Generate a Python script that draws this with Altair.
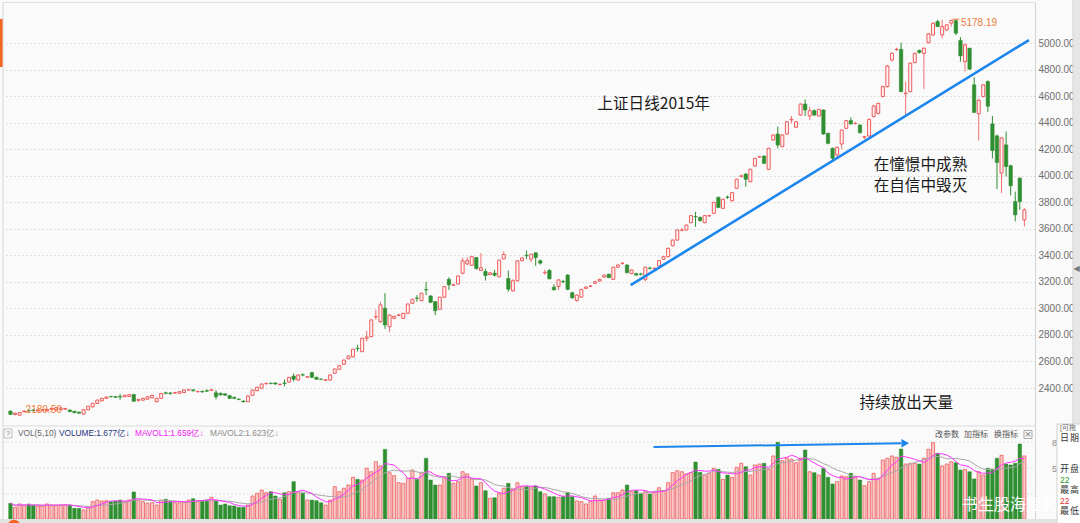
import altair as alt
import pandas as pd

# ---------------- data ----------------
opens = [
    # i0-48
    2226,2200,2195,2220,2230,2234,2226,2232,2228,2236, 2234,2236,2240,2234,2225,2218,2204,2236,2258,2284,
    2304,2322,2336,2334,2336,2334,2336,2350,2308,2308, 2316,2326,2297,2322,2364,2362,2362,2360,2366,2386,
    2386,2372,2375,2380,2383,2364,2360,2356,2342,
    # i49-98
    2330,2316,2302,2297,2345,2380,2398,2432,2436,2438, 2426,2438,2445,2490,2460,2500,2482,2516,2480,2467,
    2458,2460,2511,2541,2579,2621,2635,2699,2674,2775, 2787,2936,2900,3001,2862,2925,2948,2925,2963,3038,
    3078,3058,3142,3094,3051,2993,3084,3219,3175,3184,
    # i99-120
    3265,3335,3325,3383,3286,3278,3255,3265,3238,3373, 3225,3132,3208,3359,3400,3371,3419,3359,3268,3286,
    3160,3165,
    # i121-188
    3203,3251,3118,3060,3085,3151,3166,3189,3206,3236, 3257,3219,3310,3338,3327,3262,3262,3259,3219,3304,
    3300,3320,3370,3390,3472,3515,3589,3591,3646,3692, 3686,3646,3697,3716,3837,3754,3839,3811,3905,3996,
    4013,3955,4073,4141,4148,4048,4269,4314,4219,4314, 4420,4365,4457,4540,4450,4490,4450,4495,4319,4206,
    4156,4239,4357,4415,4393,4382,4290,4299,
    # i189-222
    4445,4470,4597,4671,4872,4950,4952,4618,4633,4852, 4944,4922,5002,5061,5162,5061,5099,5150,5168,5019,
    4860,4961,4685,4467,4597,4710,4390,4300,4020,4232, 4075,3805,3982,3667,
]
highs = [
    2230,2215,2220,2232,2236,2240,2240,2240,2242,2250, 2255,2254,2250,2238,2228,2222,2240,2266,2288,2312,
    2326,2336,2342,2340,2355,2350,2354,2356,2320,2326, 2338,2348,2326,2362,2372,2370,2372,2376,2390,2394,
    2392,2380,2382,2390,2394,2385,2366,2360,2348,
    2335,2322,2306,2344,2388,2410,2434,2440,2442,2442, 2434,2465,2484,2510,2502,2510,2492,2522,2486,2472,
    2466,2502,2546,2572,2614,2644,2695,2725,2778,2830, 2916,2990,3050,3115,2955,2945,2958,2966,3036,3072,
    3100,3118,3200,3098,3056,3088,3168,3235,3186,3248,
    3380,3385,3395,3388,3416,3298,3272,3290,3366,3430, 3285,3220,3362,3384,3436,3412,3422,3368,3290,3296,
    3182,3218,
    3215,3258,3125,3104,3147,3165,3174,3205,3223,3255, 3262,3314,3331,3350,3332,3294,3268,3268,3314,3314,
    3310,3364,3394,3457,3519,3595,3605,3632,3703,3728, 3692,3703,3706,3803,3842,3826,3850,3876,3977,4008,
    4018,4052,4135,4150,4152,4210,4311,4370,4311,4411, 4450,4411,4544,4575,4520,4500,4504,4500,4324,4212,
    4218,4348,4420,4440,4405,4386,4300,4430,
    4535,4550,4680,4835,4930,4965,5002,4710,4852,4928, 4950,4965,5075,5155,5175,5175,5142,5175,5178.19,5044,
    4998,4961,4743,4580,4690,4718,4450,4310,4290,4333, 4083,3880,3985,3755,
]
lows = [
    2198,2195,2189.5,2215,2220,2225,2222,2228,2225,2232, 2230,2232,2236,2218,2210,2206,2200,2232,2254,2280,
    2300,2318,2328,2325,2310,2330,2332,2296,2296,2304, 2312,2322,2292,2318,2352,2350,2356,2356,2362,2380,
    2372,2366,2364,2370,2378,2314,2344,2340,2316,
    2315,2308,2292,2294,2342,2376,2395,2426,2428,2425, 2420,2412,2440,2450,2456,2488,2478,2476,2462,2460,
    2454,2456,2506,2536,2575,2616,2630,2675,2670,2750, 2782,2915,2890,2845,2820,2918,2940,2920,2958,3034,
    3050,3054,3100,3040,2950,2988,3080,3140,3168,3180,
    3258,3327,3320,3292,3284,3210,3250,3240,3234,3370, 3126,3126,3204,3355,3371,3350,3320,3330,3253,3220,
    3135,3140,
    3190,3138,3072,3050,3080,3147,3160,3185,3202,3232, 3228,3215,3306,3330,3264,3258,3246,3248,3201,3292,
    3294,3316,3366,3386,3468,3511,3580,3587,3642,3615, 3655,3642,3690,3712,3756,3750,3825,3806,3900,3985,
    3917,3950,4068,4134,4088,4044,4264,4206,4214,4310, 4395,4360,4452,4450,4420,4450,4445,4308,4236,4118,
    4140,4200,4352,4385,4385,4318,4275,4295,
    4440,4460,4590,4665,4860,4940,4630,4457,4630,4850, 4920,4654,4998,5055,5120,5035,5090,5124,5060,4860,
    4785,4798,4472,4265,4590,4480,4130,3900,3870,3995, 3850,3655,3742,3617,
]
closes = [
    2201,2210,2215,2226,2227,2230,2236,2234,2238,2246, 2252,2250,2246,2222,2214,2210,2236,2262,2284,2309,
    2322,2332,2334,2330,2332,2345,2350,2300,2312,2322, 2334,2345,2322,2359,2360,2358,2366,2372,2385,2388,
    2380,2374,2371,2376,2386,2334,2348,2346,2322,
    2322,2314,2296,2340,2385,2405,2430,2435,2434,2430, 2428,2435,2480,2466,2498,2498,2485,2480,2466,2466,
    2462,2498,2543,2568,2611,2641,2692,2697,2775,2785, 2913,2938,3026,2875,2950,2940,2950,2963,3033,3069,
    3076,3114,3139,3046,2983,3084,3164,3177,3177,3244,
    3358,3360,3390,3300,3306,3248,3268,3250,3364,3406, 3145,3208,3359,3380,3396,3408,3383,3341,3272,3223,
    3140,3215,
    3200,3143,3080,3100,3143,3161,3168,3201,3219,3251, 3232,3310,3327,3340,3269,3290,3251,3257,3310,3302,
    3302,3360,3390,3453,3515,3591,3591,3628,3699,3690, 3661,3699,3699,3799,3761,3822,3837,3872,3973,3998,
    3973,4048,4131,4143,4093,4206,4307,4231,4307,4407, 4425,4407,4540,4495,4490,4457,4500,4314,4244,4131,
    4214,4344,4415,4390,4395,4324,4294,4425,
    4525,4545,4671,4827,4922,4952,4633,4622,4848,4922, 4929,4961,5069,5149,5124,5124,5137,5170,5074,4903,
    4986,4803,4477,4568,4685,4524,4190,4100,4285,4069, 3924,3705,3805,3742,
]
volumes = [  # 亿股
    1.63,1.22,1.56,1.38,1.56,1.45,1.35,1.35,1.56,1.45, 1.45,1.45,1.45,1.45,1.11,1.11,0.94,1.22,1.80,1.97,
    1.87,1.90,1.80,1.87,1.97,1.80,1.97,2.81,1.97,1.80, 1.63,1.69,1.45,1.97,2.05,1.80,1.69,1.69,1.74,1.97,
    2.11,1.90,1.90,1.97,2.25,1.87,1.45,1.56,1.38,1.35, 1.22,1.22,1.45,2.39,2.67,3.01,2.73,2.84,2.39,2.05,
    2.73,2.84,3.88,2.84,2.67,1.97,1.97,1.90,1.69,1.45, 1.97,3.36,2.84,3.19,3.53,4.33,4.12,
    4.05,5.27,4.91,5.95,5.51,7.24,4.81,4.50,3.77,3.71, 4.23,5.09,4.12,4.85,6.31,4.05,3.53,3.53,4.33,4.75,
    3.71,3.88,4.91,4.68,4.12,3.43,3.77,2.94,2.15,2.21, 2.67,3.19,3.71,3.09,3.77,3.36,3.36,3.36,3.43,2.84,
    2.60,2.32,2.32,2.25,2.32,2.77,2.32,1.87,1.80,1.56, 1.87,2.39,1.97,
    1.97,2.15,2.73,2.73,3.01,3.53,2.84,2.94,2.67,2.84, 2.60,2.84,3.25,2.94,3.77,4.81,5.02,4.91,4.68,4.81,
    5.92,4.85,4.57,4.75,5.27,5.16,4.12,4.57,4.33,5.37, 5.79,5.43,4.57,5.61,5.71,5.79,5.16,6.55,7.97,6.06,
    6.31,6.20,5.85,6.31,7.17,4.91,4.81,4.57,5.27,4.33, 3.64,3.88,4.47,4.39,4.75,4.39,4.05,3.46,3.88,4.75,
    4.23,6.13,6.31,6.55,6.41,7.27,5.71,5.79,5.79,5.71, 6.31,7.24,7.93,6.83,5.51,5.71,5.95,5.85,5.09,5.16,
    4.91,4.16,4.91,4.57,5.27,5.19,6.31,6.62,5.71,5.61, 5.79,7.79,6.55,
]
price_ticks = [2400, 2600, 2800, 3000, 3200, 3400, 3600, 3800, 4000, 4200, 4400, 4600, 4800, 5000]
vol_grid_levels = [2.6, 5.3, 8.0]
trend_i = [135.8, 223.0]
trend_p = [3176, 5022]
arrow_i = [140.8, 195.0]
arrow_v = [7.48, 7.86]
notes_i = [128.5, 189.0, 189.0, 185.9]
notes_p = [4540, 4080, 3922, 2287]
notes_t = ["上证日线2015年", "在憧憬中成熟", "在自信中毁灭", "持续放出天量"]

df = pd.DataFrame({"i": list(range(len(closes))), "o": opens, "h": highs,
                   "l": lows, "c": closes, "v": volumes})

# ---------------- styling ----------------
W, H = 1032, 517
X_DOM = [-0.542, 223.23]
P_DOM = [1412.8, 5309.0]
V_DOM = [0, 53.71]
RED, RED_FILL, RED_WICK = "#ee5b5b", "#fff3f3", "#f07070"
VRED_FILL = "#f8c8c8"
GREEN = "#2f8f31"
BLUE = "#1a86ee"
ORANGE = "#f07a3a"
NUM_FONT = "Liberation Sans"
CJK_FONT = "Noto Sans CJK SC"
MIX_FONT = "Liberation Sans, Noto Sans CJK SC"

xs = alt.Scale(domain=X_DOM, nice=False, zero=False)
ps = alt.Scale(domain=P_DOM, nice=False, zero=False)
vs = alt.Scale(domain=V_DOM, nice=False, zero=False)
p_axis = alt.Axis(orient="right", values=price_ticks, format=".2f", title=None,
                  labelColor="#6e6e6e", labelFontSize=10, labelFont=NUM_FONT,
                  ticks=False, tickSize=0, labelPadding=3, domainColor="#d4d4d4",
                  grid=True, gridColor="#d6d6d6", gridDash=[1.5, 2.5], gridWidth=1)


def X(f="i"):
    return alt.X(f"{f}:Q", scale=xs, axis=None)


def PY(f):
    return alt.Y(f"{f}:Q", scale=ps, axis=p_axis)


def VY(f):
    return alt.Y(f"{f}:Q", scale=vs, axis=None)


base = alt.Chart(df)
up = base.transform_filter("datum.c >= datum.o")
dn = base.transform_filter("datum.c < datum.o")

wick_up = up.mark_rule(color=RED_WICK, strokeWidth=1).encode(x=X(), y=PY("l"), y2="h:Q")
wick_dn = dn.mark_rule(color=GREEN, strokeWidth=1).encode(x=X(), y=PY("l"), y2="h:Q")
body_up = up.mark_bar(size=3, fill=RED_FILL, stroke=RED, strokeWidth=1).encode(
    x=X(), y=PY("o"), y2="c:Q")
body_dn = dn.mark_bar(size=3.4, fill=GREEN, stroke=GREEN, strokeWidth=0.6).encode(
    x=X(), y=PY("o"), y2="c:Q")

trend = alt.Chart(pd.DataFrame({"i": trend_i, "p": trend_p})).mark_line(
    color=BLUE, strokeWidth=2.6).encode(x=X(), y=PY("p"))

notes_df = pd.DataFrame({"i": notes_i, "p": notes_p, "t": notes_t})
notes = alt.Chart(notes_df).mark_text(align="left", baseline="middle", fontSize=15.6,
                                      font=CJK_FONT, color="#1b1b1b").encode(
    x=X(), y=PY("p"), text="t:N")

lo_i = int(df["l"].idxmin())
hi_i = int(df["h"].idxmax())
ext_df = pd.DataFrame({"i": [lo_i], "p": [lows[lo_i]], "t": [f"{lows[lo_i]:.2f}"]})
ext_df2 = pd.DataFrame({"i": [hi_i], "p": [highs[hi_i]], "t": [f"{highs[hi_i]:.2f}"]})
lo_lab = alt.Chart(ext_df).mark_text(align="left", baseline="middle", fontSize=10,
                                     font=NUM_FONT, color=ORANGE, dx=6, dy=-6).encode(
    x=X(), y=PY("p"), text="t:N")
hi_lab = alt.Chart(ext_df2).mark_text(align="left", baseline="middle", fontSize=10,
                                      font=NUM_FONT, color=ORANGE, dx=5, dy=4).encode(
    x=X(), y=PY("p"), text="t:N")
hi_tick = alt.Chart(ext_df2).mark_tick(orient="horizontal", size=7, thickness=1.5,
                                       color=ORANGE).encode(x=X(), y=PY("p"))

price = alt.layer(wick_up, wick_dn, body_up, body_dn, trend, notes, lo_lab, hi_lab, hi_tick)

# ---------------- volume panel ----------------
vgrid = alt.Chart(pd.DataFrame({"g": vol_grid_levels})).mark_rule(
    color="#d6d6d6", strokeDash=[1.5, 2.5]).encode(y=VY("g"), x=alt.value(0), x2=alt.value(W))
vol_up = up.mark_bar(size=3.1, fill=VRED_FILL, stroke=RED, strokeWidth=0.8).encode(x=X(), y=VY("v"))
vol_dn = dn.mark_bar(size=3.5, fill=GREEN, stroke=GREEN, strokeWidth=0.5).encode(x=X(), y=VY("v"))
ma5 = base.transform_window(ma="mean(v)", frame=[-4, 0], sort=[alt.SortField("i")]).mark_line(
    color="#ff33ff", strokeWidth=1).encode(x=X(), y=VY("ma"))
ma10 = base.transform_window(ma="mean(v)", frame=[-9, 0], sort=[alt.SortField("i")]).mark_line(
    color="#a9a9a9", strokeWidth=1).encode(x=X(), y=VY("ma"))
arrow = alt.Chart(pd.DataFrame({"i": arrow_i, "v": arrow_v})).mark_line(
    color=BLUE, strokeWidth=2).encode(x=X(), y=VY("v"))
arrow_head = alt.Chart(pd.DataFrame({"i": [arrow_i[-1] + 0.9], "v": [arrow_v[-1] + 0.01]})).mark_point(
    shape="triangle-right", filled=True, size=75, color=BLUE, opacity=1).encode(x=X(), y=VY("v"))

volume = alt.layer(vgrid, vol_up, vol_dn, ma10, ma5, arrow, arrow_head)

# ---------------- decorations (pixel placed) ----------------
dummy = pd.DataFrame({"d": [0]})


def ptext(t, x, y, size, color, font=MIX_FONT, align="left", weight="normal"):
    return alt.Chart(dummy).mark_text(text=t, align=align, baseline="middle", fontSize=size,
                                      color=color, font=font, fontWeight=weight).encode(
        x=alt.value(x), y=alt.value(y))


def prect(x1, y1, x2, y2, fill, stroke=None, sw=1):
    kw = dict(fill=fill)
    if stroke:
        kw.update(stroke=stroke, strokeWidth=sw)
    return alt.Chart(dummy).mark_rect(**kw).encode(
        x=alt.value(x1), x2=alt.value(x2), y=alt.value(y1), y2=alt.value(y2))


def prule(x1, y1, x2, y2, color, sw=1):
    return alt.Chart(dummy).mark_rule(color=color, strokeWidth=sw).encode(
        x=alt.value(x1), x2=alt.value(x2), y=alt.value(y1), y2=alt.value(y2))


deco = [
    prule(0, 0.5, W, 0.5, "#e0e0e0"),
    prule(0, 0, 0, H, "#d4d4d4"),
    prect(-3, 17, -0.4, 65, "#f26522"),
    prule(0, 424, W, 424, "#dcdcdc"),
    prect(-3, 517, 1054, 523, "#e3e3e3"),
    alt.Chart(dummy).mark_point(filled=True, size=160, color="#f26522", opacity=1).encode(
        x=alt.value(11), y=alt.value(524)),
    # volume header
    prect(1, 427, 9, 436, "#fafafa", "#bdbdbd"),
    ptext("?", 5, 431.5, 8, "#8a8a8a", NUM_FONT, "center"),
    ptext("VOL(5,10)", 15, 432, 8.3, "#666666"),
    ptext("VOLUME:1.677亿↓", 56, 432, 8.3, "#27337f"),
    ptext("MAVOL1:1.659亿↓", 132, 432, 8.3, "#f020f0"),
    ptext("MAVOL2:1.623亿↓", 207, 432, 8.3, "#8c8c8c"),
    ptext("改参数", 932, 433, 8, "#555555", CJK_FONT),
    ptext("加指标", 961, 433, 8, "#555555", CJK_FONT),
    ptext("换指标", 991, 433, 8, "#555555", CJK_FONT),
    prect(1021, 428.5, 1029, 436.5, "#fafafa", "#a9a9a9"),
    ptext("×", 1025, 432.3, 9, "#777777", "DejaVu Sans", "center"),
    # watermark
    ptext("书生股海复利", 959, 502.5, 16, "#ffffff", CJK_FONT),
    # right side widgets
    prect(1070, -2, 1077, 426, "#e6e6e6"),
    prule(1070, -2, 1070, 426, "#d2d2d2"),
    ptext("◀", 1073.5, 267, 8, "#777777", "DejaVu Sans", "center"),
    ptext("8", 1049, 441, 9, "#8a8a8a", NUM_FONT),
    ptext("5", 1049, 467, 9, "#8a8a8a", NUM_FONT),
    prect(1054, 422, 1078, 523, "#ffffff", "#d0d0d0"),
    ptext("[可拖", 1057, 425.5, 7, "#666666"),
    ptext("日", 1057, 436, 9, "#333333", CJK_FONT),
    ptext("期", 1067, 436, 9, "#333333", CJK_FONT),
    ptext("开", 1057, 467, 9, "#333333", CJK_FONT),
    ptext("盘", 1067, 467, 9, "#333333", CJK_FONT),
    ptext("22", 1057, 477.5, 8.5, "#2a9a2a", NUM_FONT),
    ptext("最", 1057, 488, 9, "#333333", CJK_FONT),
    ptext("高", 1067, 488, 9, "#333333", CJK_FONT),
    ptext("22", 1057, 498.5, 8.5, "#e03030", NUM_FONT),
    ptext("最", 1057, 509, 9, "#333333", CJK_FONT),
    ptext("低", 1067, 509, 9, "#333333", CJK_FONT),
]
overlay = alt.layer(*deco)

chart = alt.layer(price, volume, overlay).resolve_scale(y="independent").properties(
    width=W, height=H, background="#fafafa",
    padding={"left": 3, "top": 2, "right": 45, "bottom": 4},
    autosize=alt.AutoSizeParams(type="none"),
).configure_view(stroke=None)

chart.save("out.html", embed_options={"renderer": "svg", "actions": False})
